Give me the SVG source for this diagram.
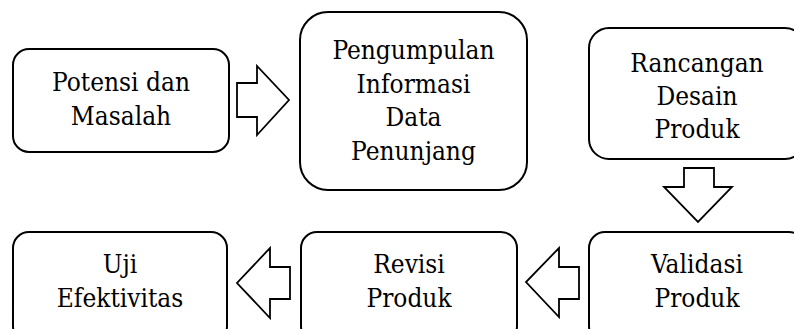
<svg xmlns="http://www.w3.org/2000/svg" width="794" height="329" viewBox="0 0 794 329">
<style>
.box{fill:#fff;stroke:#000;stroke-width:2}
.arr{fill:#fff;stroke:#000;stroke-width:1.8;stroke-linejoin:miter}
</style>
<rect width="794" height="329" fill="#fff"/>
<g font-family="DejaVu Serif" font-stretch="condensed" font-size="26" text-anchor="middle" fill="#000">
<g id="n1"><rect class="box" x="13" y="49" width="216" height="103" rx="16"/>
<text x="121" y="91">Potensi dan</text><text x="121" y="125">Masalah</text></g>
<g id="n2"><rect class="box" x="300" y="12" width="227" height="178" rx="28"/>
<text x="413.5" y="59">Pengumpulan</text><text x="413.5" y="92.5">Informasi</text><text x="413.5" y="126">Data</text><text x="413.5" y="159.5">Penunjang</text></g>
<g id="n3"><rect class="box" x="589" y="28" width="216" height="131" rx="20"/>
<text x="697" y="72">Rancangan</text><text x="697" y="105">Desain</text><text x="697" y="138">Produk</text></g>
<g id="n4"><rect class="box" x="589" y="232" width="216" height="110" rx="16"/>
<text x="697" y="273">Validasi</text><text x="697" y="307">Produk</text></g>
<g id="n5"><rect class="box" x="301" y="232" width="216" height="110" rx="16"/>
<text x="409" y="273">Revisi</text><text x="409" y="307">Produk</text></g>
<g id="n6"><rect class="box" x="13" y="232" width="214" height="110" rx="16"/>
<text x="120" y="273">Uji</text><text x="120" y="307">Efektivitas</text></g>
</g>
<g id="connectors">
<polygon class="arr" points="237,83 257,83 257,66 289,100 257,135 257,117 237,117"/>
<polygon class="arr" points="684,168 714,168 714,187 732,187 698,222 664,187 684,187"/>
<polygon class="arr" points="579,267 559,267 559,248 526,282 559,317 559,299 579,299"/>
<polygon class="arr" points="290,267 270,267 270,248 237,283 270,318 270,299 290,299"/>
</g>
</svg>
